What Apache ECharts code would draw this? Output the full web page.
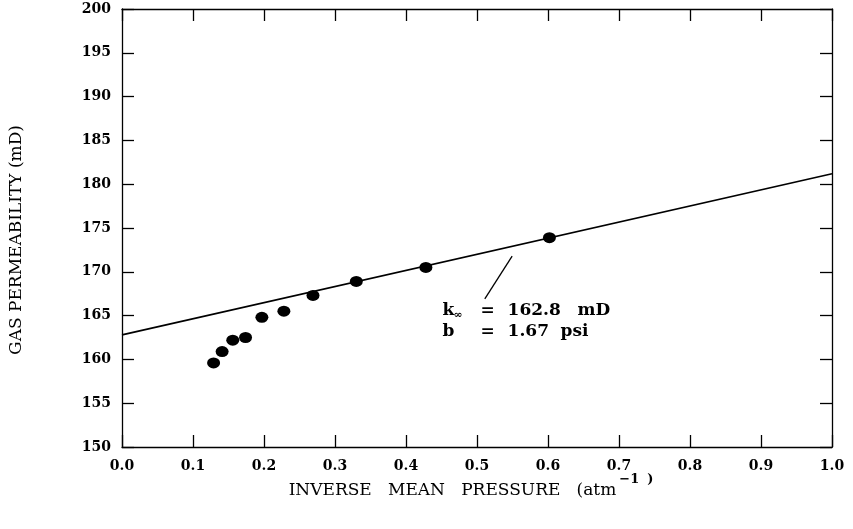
<!DOCTYPE html>
<html><head><meta charset="utf-8">
<script src="https://cdn.jsdelivr.net/npm/echarts@6/dist/echarts.min.js"></script>
<style>html,body{margin:0;padding:0;background:#fff}#c{width:853px;height:529px}</style>
</head><body><div id="c"></div>
<script>
// Data
const invPressure = [0.129, 0.141, 0.156, 0.174, 0.197, 0.228, 0.269, 0.330, 0.428, 0.602];
const permeability = [159.6, 160.9, 162.2, 162.5, 164.8, 165.5, 167.3, 168.9, 170.5, 173.9];
const fitX = [0.0, 1.0];
const fitY = [162.8, 181.2];
const leaderX = [0.5495, 0.511];
const leaderY = [171.8, 166.9];
const noteAnchor = [0.4515, 164.4];
const noteLines = ['{a|k}{s|\u221e}{e|=}{v1|162.8}{u|mD}', '{a|b}{s| }{e|=}{v2|1.67}{u|psi}'];
const xTitle = '{t|INVERSE   MEAN   PRESSURE   (atm}{sup|\u22121}{supp|)}';
const yTitle = 'GAS PERMEABILITY (mD)';

const serif = 'DejaVu Serif';
const chart = echarts.init(document.getElementById('c'));
const axisCommon = {
  axisLine: {show: true, onZero: false, lineStyle: {color: '#000', width: 1.3}},
  axisTick: {show: true, inside: true, length: 12, lineStyle: {color: '#000', width: 1.3}},
  splitLine: {show: false}
};
const noteTxt = {fontFamily: serif, fontWeight: 'bold', fontSize: 17, color: '#000', lineHeight: 21};
chart.setOption({
  animation: false,
  backgroundColor: '#fff',
  textStyle: {fontFamily: serif},
  grid: {left: 121, right: 21, top: 9, bottom: 82},
  xAxis: [
    Object.assign({type: 'value', min: 0, max: 1, interval: 0.1, position: 'bottom',
      name: xTitle, nameLocation: 'middle', nameGap: 26, nameMoveOverlap: false,
      nameTextStyle: {fontFamily: serif, fontSize: 17, color: '#000', padding: [0, 12, 0, 0],
        rich: {
          t: {fontFamily: serif, fontSize: 17, verticalAlign: 'bottom', lineHeight: 26, color: '#000'},
          sup: {fontFamily: serif, fontSize: 13, fontWeight: 'bold', verticalAlign: 'top', lineHeight: 26, color: '#000', padding: [0, 0, 0, 3]},
          supp: {fontFamily: serif, fontSize: 13, fontWeight: 'bold', verticalAlign: 'top', lineHeight: 26, color: '#000', padding: [0, 0, 0, 8]}
        }},
      axisLabel: {fontFamily: serif, fontWeight: 'bold', fontSize: 14, color: '#000', margin: 12,
        formatter: v => v.toFixed(1)}}, axisCommon),
    Object.assign({type: 'value', min: 0, max: 1, interval: 0.1, position: 'top', axisLabel: {show: false}}, axisCommon)
  ],
  yAxis: [
    Object.assign({type: 'value', min: 150, max: 200, interval: 5, position: 'left',
      name: yTitle, nameLocation: 'middle', nameGap: 96, nameMoveOverlap: false,
      nameTextStyle: {fontFamily: serif, fontSize: 17, lineHeight: 18, color: '#000', padding: [0, 24, 0, 0]},
      axisLabel: {fontFamily: serif, fontWeight: 'bold', fontSize: 14, color: '#000', margin: 11}}, axisCommon),
    Object.assign({type: 'value', min: 150, max: 200, interval: 5, position: 'right', axisLabel: {show: false}}, axisCommon)
  ],
  series: [
    {type: 'line', data: fitX.map((x, i) => [x, fitY[i]]), symbol: 'none',
      lineStyle: {color: '#000', width: 1.6}, z: 2},
    {type: 'line', data: leaderX.map((x, i) => [x, leaderY[i]]), symbol: 'none',
      lineStyle: {color: '#000', width: 1.3}, z: 2},
    {type: 'scatter', data: invPressure.map((x, i) => [x, permeability[i]]), symbol: 'circle',
      symbolSize: [13, 11], itemStyle: {color: '#000', opacity: 1}, z: 3},
    {type: 'scatter', data: [noteAnchor], symbolSize: 0, silent: true, itemStyle: {opacity: 1},
      label: {show: true, position: 'right', distance: 0, align: 'left', verticalAlign: 'middle', opacity: 1,
        formatter: noteLines.join('\n'),
        rich: {
          a: Object.assign({}, noteTxt, {width: 11}),
          s: Object.assign({}, noteTxt, {fontSize: 11, width: 27, verticalAlign: 'bottom'}),
          e: Object.assign({}, noteTxt, {width: 27}),
          v1: Object.assign({}, noteTxt, {width: 70}),
          v2: Object.assign({}, noteTxt, {width: 53}),
          u: Object.assign({}, noteTxt)
        }}}
  ]
});
</script></body></html>
